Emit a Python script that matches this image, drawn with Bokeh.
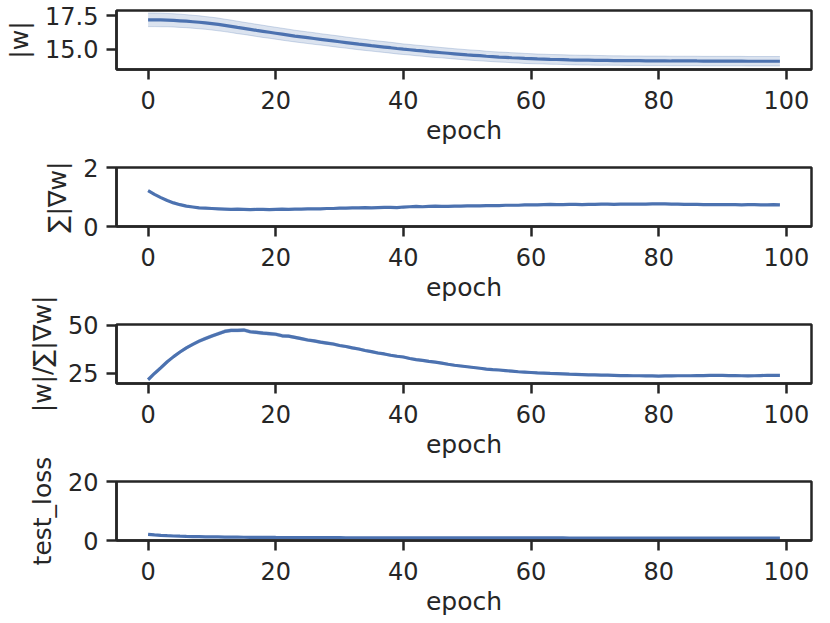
from bokeh.plotting import figure
from bokeh.layouts import column
from bokeh.models import FixedTicker, Range1d, PrintfTickFormatter
from bokeh.embed import file_html
from bokeh.resources import INLINE

epochs = list(range(100))
x_ticks = [0, 20, 40, 60, 80, 100]

# |w|
w_mean = [17.18, 17.18, 17.17, 17.16, 17.14, 17.11, 17.08, 17.04, 17.00, 16.95,
          16.90, 16.84, 16.77, 16.70, 16.62, 16.55, 16.48, 16.40, 16.33, 16.26,
          16.19, 16.12, 16.05, 15.98, 15.92, 15.86, 15.80, 15.74, 15.68, 15.62,
          15.56, 15.50, 15.44, 15.38, 15.33, 15.27, 15.22, 15.17, 15.12, 15.06,
          15.01, 14.97, 14.92, 14.88, 14.83, 14.79, 14.75, 14.71, 14.67, 14.63,
          14.59, 14.56, 14.53, 14.49, 14.46, 14.43, 14.41, 14.38, 14.36, 14.33,
          14.31, 14.29, 14.28, 14.26, 14.25, 14.24, 14.22, 14.21, 14.20, 14.20,
          14.19, 14.18, 14.18, 14.17, 14.17, 14.16, 14.16, 14.16, 14.15, 14.15,
          14.15, 14.15, 14.14, 14.14, 14.14, 14.14, 14.14, 14.13, 14.13, 14.13,
          14.13, 14.13, 14.13, 14.13, 14.12, 14.12, 14.12, 14.12, 14.12, 14.12]
w_ci = [0.50, 0.50, 0.50, 0.49, 0.49, 0.49, 0.48, 0.48, 0.48, 0.47,
        0.47, 0.47, 0.46, 0.46, 0.46, 0.45, 0.45, 0.45, 0.45, 0.44,
        0.44, 0.44, 0.44, 0.43, 0.43, 0.43, 0.43, 0.42, 0.42, 0.42,
        0.42, 0.41, 0.41, 0.41, 0.41, 0.40, 0.40, 0.40, 0.40, 0.40,
        0.39, 0.39, 0.39, 0.39, 0.39, 0.39, 0.38, 0.38, 0.38, 0.38,
        0.38, 0.38, 0.38, 0.37, 0.37, 0.37, 0.37, 0.37, 0.37, 0.37,
        0.37, 0.36, 0.36, 0.36, 0.36, 0.36, 0.36, 0.36, 0.36, 0.36,
        0.36, 0.36, 0.35, 0.35, 0.35, 0.35, 0.35, 0.35, 0.35, 0.35,
        0.35, 0.35, 0.35, 0.35, 0.35, 0.35, 0.35, 0.35, 0.35, 0.35,
        0.35, 0.35, 0.35, 0.35, 0.35, 0.35, 0.35, 0.35, 0.35, 0.35]

# sum |grad w|
g_mean = [1.22, 1.09, 0.98, 0.88, 0.80, 0.74, 0.69, 0.66, 0.63, 0.62,
          0.61, 0.60, 0.59, 0.58, 0.59, 0.58, 0.57, 0.58, 0.58, 0.57,
          0.58, 0.59, 0.58, 0.59, 0.59, 0.60, 0.60, 0.60, 0.61, 0.61,
          0.62, 0.62, 0.63, 0.63, 0.64, 0.63, 0.64, 0.65, 0.65, 0.64,
          0.66, 0.67, 0.68, 0.67, 0.68, 0.69, 0.68, 0.68, 0.69, 0.69,
          0.70, 0.70, 0.70, 0.71, 0.71, 0.71, 0.72, 0.72, 0.72, 0.73,
          0.73, 0.73, 0.74, 0.75, 0.74, 0.74, 0.75, 0.75, 0.74, 0.75,
          0.75, 0.76, 0.76, 0.75, 0.76, 0.76, 0.76, 0.76, 0.76, 0.77,
          0.77, 0.77, 0.76, 0.76, 0.75, 0.75, 0.75, 0.74, 0.74, 0.74,
          0.74, 0.74, 0.74, 0.73, 0.74, 0.74, 0.73, 0.73, 0.74, 0.73]
g_ci = [0.02, 0.02, 0.02, 0.02, 0.02, 0.02, 0.02, 0.02, 0.02, 0.02,
        0.02, 0.02, 0.02, 0.02, 0.02, 0.02, 0.02, 0.02, 0.02, 0.02,
        0.02, 0.02, 0.02, 0.02, 0.02, 0.02, 0.02, 0.02, 0.02, 0.02,
        0.02, 0.02, 0.02, 0.02, 0.02, 0.02, 0.02, 0.02, 0.02, 0.02,
        0.02, 0.02, 0.02, 0.02, 0.02, 0.02, 0.02, 0.02, 0.02, 0.02,
        0.02, 0.02, 0.02, 0.02, 0.02, 0.02, 0.02, 0.02, 0.02, 0.02,
        0.02, 0.02, 0.02, 0.02, 0.02, 0.02, 0.02, 0.02, 0.02, 0.02,
        0.02, 0.02, 0.02, 0.02, 0.02, 0.02, 0.02, 0.02, 0.02, 0.02,
        0.02, 0.02, 0.02, 0.02, 0.02, 0.02, 0.02, 0.02, 0.02, 0.02,
        0.02, 0.02, 0.02, 0.02, 0.02, 0.02, 0.02, 0.02, 0.02, 0.02]

# |w| / sum |grad w|
r_mean = [21.5, 24.8, 27.8, 30.9, 33.6, 36.0, 38.2, 40.0, 41.7, 43.1,
          44.4, 45.6, 46.8, 47.3, 47.3, 47.5, 46.6, 46.3, 45.9, 45.6,
          45.3, 44.5, 44.3, 43.7, 43.0, 42.3, 41.8, 41.2, 40.7, 40.2,
          39.4, 38.9, 38.2, 37.6, 36.8, 36.2, 35.5, 35.0, 34.3, 33.8,
          33.4, 32.6, 32.0, 31.6, 31.1, 30.7, 30.2, 29.6, 29.1, 28.7,
          28.3, 27.9, 27.5, 27.1, 26.8, 26.6, 26.3, 26.0, 25.7, 25.5,
          25.3, 25.1, 25.0, 24.8, 24.7, 24.6, 24.4, 24.3, 24.2, 24.1,
          24.0, 23.9, 23.9, 23.8, 23.7, 23.7, 23.6, 23.6, 23.5, 23.5,
          23.4, 23.5, 23.5, 23.6, 23.6, 23.6, 23.7, 23.7, 23.8, 23.8,
          23.8, 23.7, 23.7, 23.6, 23.5, 23.6, 23.7, 23.8, 23.8, 23.8]
r_ci = [0.4, 0.5, 0.5, 0.6, 0.6, 0.7, 0.7, 0.7, 0.8, 0.8,
        0.8, 0.8, 0.8, 0.8, 0.8, 0.8, 0.8, 0.8, 0.8, 0.8,
        0.8, 0.8, 0.7, 0.7, 0.7, 0.7, 0.7, 0.7, 0.7, 0.7,
        0.6, 0.6, 0.6, 0.6, 0.6, 0.6, 0.6, 0.6, 0.6, 0.6,
        0.5, 0.5, 0.5, 0.5, 0.5, 0.5, 0.5, 0.5, 0.5, 0.5,
        0.4, 0.4, 0.4, 0.4, 0.4, 0.4, 0.4, 0.4, 0.4, 0.4,
        0.4, 0.4, 0.4, 0.4, 0.4, 0.4, 0.4, 0.4, 0.4, 0.4,
        0.4, 0.4, 0.4, 0.4, 0.4, 0.4, 0.4, 0.4, 0.4, 0.4,
        0.4, 0.4, 0.4, 0.4, 0.4, 0.4, 0.4, 0.4, 0.4, 0.4,
        0.4, 0.4, 0.4, 0.4, 0.4, 0.4, 0.4, 0.4, 0.4, 0.4]

# test_loss
l_mean = [2.10, 1.90, 1.75, 1.62, 1.52, 1.45, 1.39, 1.34, 1.30, 1.26,
          1.23, 1.20, 1.17, 1.15, 1.13, 1.11, 1.09, 1.07, 1.06, 1.05,
          1.03, 1.02, 1.01, 1.00, 0.99, 0.98, 0.97, 0.97, 0.96, 0.95,
          0.95, 0.94, 0.94, 0.93, 0.93, 0.92, 0.92, 0.91, 0.91, 0.91,
          0.90, 0.90, 0.90, 0.89, 0.89, 0.89, 0.89, 0.88, 0.88, 0.88,
          0.88, 0.88, 0.87, 0.87, 0.87, 0.87, 0.87, 0.87, 0.86, 0.86,
          0.86, 0.86, 0.86, 0.86, 0.86, 0.86, 0.85, 0.85, 0.85, 0.85,
          0.85, 0.85, 0.85, 0.85, 0.85, 0.85, 0.85, 0.85, 0.84, 0.84,
          0.84, 0.84, 0.84, 0.84, 0.84, 0.84, 0.84, 0.84, 0.84, 0.84,
          0.84, 0.84, 0.84, 0.84, 0.84, 0.84, 0.84, 0.84, 0.84, 0.84]
l_ci = [0.08, 0.07, 0.07, 0.06, 0.06, 0.06, 0.05, 0.05, 0.05, 0.05,
        0.05, 0.05, 0.04, 0.04, 0.04, 0.04, 0.04, 0.04, 0.04, 0.04,
        0.04, 0.04, 0.04, 0.04, 0.04, 0.04, 0.04, 0.04, 0.04, 0.04,
        0.04, 0.04, 0.04, 0.04, 0.04, 0.04, 0.04, 0.04, 0.04, 0.04,
        0.04, 0.04, 0.04, 0.04, 0.04, 0.04, 0.04, 0.04, 0.04, 0.04,
        0.04, 0.04, 0.04, 0.04, 0.04, 0.04, 0.04, 0.04, 0.04, 0.04,
        0.04, 0.04, 0.04, 0.04, 0.04, 0.04, 0.04, 0.04, 0.04, 0.04,
        0.04, 0.04, 0.04, 0.04, 0.04, 0.04, 0.04, 0.04, 0.04, 0.04,
        0.04, 0.04, 0.04, 0.04, 0.04, 0.04, 0.04, 0.04, 0.04, 0.04,
        0.04, 0.04, 0.04, 0.04, 0.04, 0.04, 0.04, 0.04, 0.04, 0.04]

panels = [
    ("|w|", w_mean, w_ci, (13.51, 17.87), [15.0, 17.5], "%.1f"),
    ("∑|∇w|", g_mean, g_ci, (0, 2), [0, 2], None),
    ("|w|/∑|∇w|", r_mean, r_ci, (19.54, 50.4), [25, 50], None),
    ("test_loss", l_mean, l_ci, (0, 20), [0, 20], None),
]
# (top border, bottom border, margin top)
borders = [(10, 82, 0), (16, 79, 0), (33, 79, -14), (32, 74, -13)]

LINE = "#4c72b0"
DARK = "#262626"
FONT = "DejaVu Sans"

figs = []
for (label, mean, ci, yr, yt, fmt), (bt, bb, mt) in zip(panels, borders):
    p = figure(frame_width=695, frame_height=59,
               x_range=Range1d(-4.95, 103.95), y_range=Range1d(*yr),
               output_backend="svg", toolbar_location=None,
               min_border_left=116, min_border_right=3,
               min_border_top=bt, min_border_bottom=bb)
    if mt:
        p.margin = (mt, 0, 0, 0)
    p.border_fill_color = None
    p.background_fill_color = "white"
    p.outline_line_color = DARK
    p.outline_line_width = 2.5
    p.grid.visible = False
    lower = [m - c for m, c in zip(mean, ci)]
    upper = [m + c for m, c in zip(mean, ci)]
    p.varea(x=epochs, y1=lower, y2=upper, fill_color=LINE, fill_alpha=0.2)
    p.line(x=epochs, y=lower, line_color=LINE, line_width=1, line_alpha=0.25)
    p.line(x=epochs, y=upper, line_color=LINE, line_width=1, line_alpha=0.25)
    p.line(x=epochs, y=mean, line_color=LINE, line_width=3.2)

    p.xaxis.ticker = FixedTicker(ticks=x_ticks)
    p.yaxis.ticker = FixedTicker(ticks=yt)
    if fmt:
        p.yaxis.formatter = PrintfTickFormatter(format=fmt)
    p.xaxis.axis_label = "epoch"
    p.yaxis.axis_label = label
    for ax in (p.xaxis, p.yaxis):
        ax.axis_line_color = DARK
        ax.axis_line_width = 2.5
        ax.major_tick_line_color = DARK
        ax.major_tick_line_width = 2.5
        ax.major_tick_in = 0
        ax.major_tick_out = 10
        ax.minor_tick_line_color = None
        ax.major_label_text_font = FONT
        ax.major_label_text_font_size = "24px"
        ax.major_label_text_color = DARK
        ax.axis_label_text_font = FONT
        ax.axis_label_text_font_size = "25px"
        ax.axis_label_text_font_style = "normal"
        ax.axis_label_text_color = DARK
    p.xaxis.major_label_standoff = 11
    p.xaxis.axis_label_standoff = 4
    p.yaxis.major_label_standoff = 8
    p.yaxis.axis_label_standoff = 8
    figs.append(p)

layout = column(*figs)
open("out.html", "w").write(file_html(layout, INLINE))
